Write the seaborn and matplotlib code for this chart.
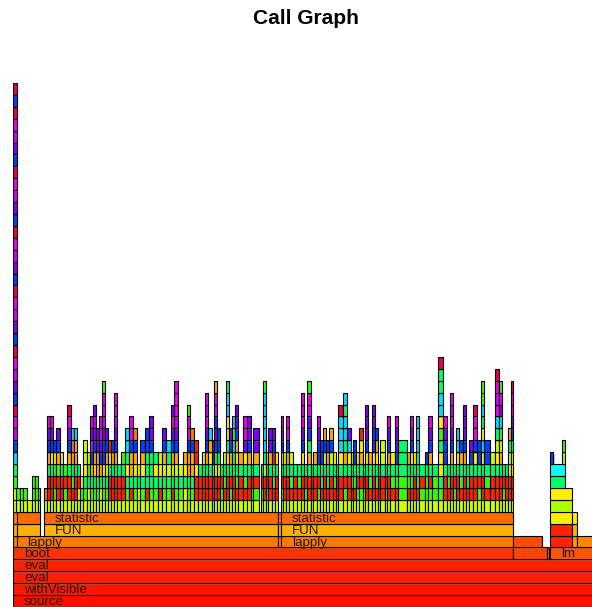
import matplotlib
matplotlib.use("Agg")
import matplotlib.pyplot as plt
import matplotlib.patheffects as pe
import seaborn as sns
import pandas as pd

# ---------------- data (x in profiler samples, levels = stack depth) ----------------
palette = {
    'l': '#CCFF00', 'r': '#FF2200', 'g': '#33FF00', 's': '#00FF66',
    'y': '#FFEE00', 'a': '#FFAA00', 'o': '#FF7A00', 'c': '#00DDFF',
    'b': '#0040FF', 'p': '#8000FF', 'm': '#EE00EE', 'n': '#CC00FF',
    'k': '#EE0044',
}

# named base frames: level, start, end, colour, label
base_levels = [0, 1, 2, 3, 4, 4, 4, 4,
               5, 5, 5, 5, 5, 5, 5,
               6, 6, 6, 6, 6, 6,
               7, 7, 7, 7, 7, 7,
               8, 9, 10, 11, 12, 12, 13]
base_start = [0, 0, 0, 0, 0, 500, 534, 537,
              3, 264.7, 268, 500, 537, 558.7, 564,
              3, 31, 264.7, 268, 537, 558.7,
              3, 31, 264.7, 268, 537, 558.7,
              537, 537, 537, 537, 537, 548.7, 548.7]
base_end = [590, 590, 590, 590, 500, 534, 536, 590,
            264.7, 268, 500, 528.7, 558.7, 564, 590,
            27, 264.7, 268, 500, 558.7, 564,
            27, 264.7, 268, 500, 558.7, 564,
            558.7, 558.7, 552, 552, 540.3, 552, 552]
base_color = ['#FF0E00', '#FF1600', '#FF1E00', '#FF2200', '#FF3300', '#FF4400', '#FF5000', '#FF5500',
              '#FF7A00', '#FF7A00', '#FF7A00', '#FF4A00', '#FF2200', '#FF9900', '#FF8800',
              '#FFB000', '#FFB000', '#FFB000', '#FFB000', '#FF2200', '#FFB000',
              '#FF6A00', '#FF6A00', '#FF6A00', '#FF6A00', '#FFEE00', '#FFEE00',
              '#AAFF00', '#FFEE00', '#00FF66', '#00FFFF', '#0044FF', '#AAFF00', '#33FF00']
base_label = ['source', 'withVisible', 'eval', 'eval', 'boot', '', '', 'lm',
              'lapply', '', 'lapply', '', '', '', '',
              '', 'FUN', '', 'FUN', '', '',
              '', 'statistic', '', 'statistic', '', '',
              '', '', '', '', '', '', '']

# deep recursive call chain at the far left (levels 5 .. 43)
tall_start, tall_end = 0, 3.5
tall_stack = "oaollgscbnmkbpnmkbpnmkbpnmkbpnmkbpnmkbk"

# small stack under the first FUN (levels 8+)
left_edges = [3, 7, 10, 14, 19, 22, 25, 27]
left_stacks = ["lg", "lg", "lg", "l", "lgg", "lgg", "lg"]

# first statistic() block (levels 8+)
a_edges = [31, 34, 37, 40, 43, 47, 50, 54, 58, 61, 64, 67, 70, 74, 77, 80, 83, 86, 89, 92,
           95, 98, 101, 104, 108, 112, 116, 120, 124, 127, 132, 136, 140, 145, 149, 153, 158,
           161, 165, 170, 174, 177, 181, 185, 189, 192, 195, 199, 201, 204, 207, 210, 213, 216,
           219, 222, 225, 230, 234, 238, 240, 246, 248, 250, 253, 255, 259, 262, 265]
a_stacks = ["lo", "lrrsabpm", "lrrgybpm", "lgrsyb", "lrrgabp", "lrrsy", "lgrg", "lrrsabpmk",
            "lrgsaoc", "lrrsaac", "lyrs", "lgy", "lgsyll", "lysgl", "lgsabmpm", "lgsyabpnp",
            "lgsaapp", "lysabpmm", "lgsybbpnmmg", "lgslabp", "lrrsyr", "lrrsab", "lrrsabpnmm",
            "lrrs", "lrrsg", "lgsyscc", "lrsaabmm", "lgslabo", "lysy", "lgsyab", "lrsssbb",
            "lgsssbpp", "lgsys", "lrsyl", "lgslabp", "lgslsc", "lrslabpmp", "lgslabpnmmm",
            "lgsl", "lysya", "lgsaabmmg", "lgsaabo", "lrryrr", "lrrs", "lrrsy", "lrrsabpmnm",
            "lrrsyac", "lrrlbp", "lrrlsbpbmma", "lrrlsbb", "lgrs", "lrgsl", "lrrsyslyccs",
            "lgrsabp", "lrrsscsc", "lrgsyabpp", "lrrsa", "lrgsypmm", "lrrsabpp", "lgrs",
            "lgrsapp", "", "lgrs", "lrrlscccccg", "lgrsy", "lrrsapp", "lrgsrbp", "lrrsy"]

# second statistic() block (levels 8+)
b_edges = [268, 270, 273, 276, 280, 284, 288, 291, 294, 298, 300, 304, 307, 310, 313, 316, 320,
           323, 325, 330, 334, 338, 340, 343, 346, 350, 352, 355, 359, 362, 365, 367, 372, 374,
           377, 382, 385, 394, 397, 400, 403, 406, 412, 415, 419, 425, 430, 434, 437, 440, 443,
           446, 450, 453, 456, 460, 464, 468, 471, 477, 482, 486, 489, 492, 495, 498, 500]
b_stacks = ["lgrsybpm", "lrrsl", "lrrsabmm", "lrgsl", "lrrs", "lrgs", "lrrsybpmmm", "lgrs",
            "lrrsasbpmmg", "lrrs", "lrrsa", "lgrsbbpm", "lrgsbb", "lrrslba", "lrgsab", "lrrslba",
            "lrgsy", "lrrs", "lrrsyccck", "lgrsasccsc", "lrrsycp", "lrgsl", "lrgsbb", "lgrsy",
            "lgrsayr", "lgrs", "lrrsybppp", "lrgsa", "lrrsybbpp", "lrgsyab", "lrrs", "lrrsll",
            "lgrs", "lrrsabpm", "lrgsy", "lrgsbppm", "lggsss", "lrgsa", "lrgsybpm", "lrrsy",
            "lrgssccc", "lgrs", "lggsb", "lgrsabpm", "lggs", "lgsyysgyccssk", "lrrsbbpm", "lrgs",
            "lrrsabpmnm", "lgrs", "lrrsycc", "lrgsab", "lrrsabppp", "lrgs", "lrrsbp", "lrrsybmmk",
            "lgrsbb", "lrrsycyscgg", "lrgsbb", "lrrsl", "lrrsylscmnmk", "lrrsalgcpmg", "lgrs",
            "lrrs", "lrrylsa", "lrrylsbpmmk"]

# ---------------- build frame table ----------------
rows = []
for lv, x0, x1, col, lab in zip(base_levels, base_start, base_end, base_color, base_label):
    rows.append(dict(level=lv, start=x0, width=x1 - x0, color=col, label=lab))
for i, ch in enumerate(tall_stack):
    rows.append(dict(level=5 + i, start=tall_start, width=tall_end - tall_start,
                     color=palette[ch], label=''))
for edges, stacks in ((left_edges, left_stacks), (a_edges, a_stacks), (b_edges, b_stacks)):
    for j, st in enumerate(stacks):
        for i, ch in enumerate(st):
            rows.append(dict(level=8 + i, start=edges[j], width=edges[j + 1] - edges[j],
                             color=palette[ch], label=''))
df = pd.DataFrame(rows)

# ---------------- draw ----------------
sns.set_theme(style="white")
plt.rcParams['font.family'] = ['Liberation Sans', 'DejaVu Sans']

fig = plt.figure(figsize=(5.92, 6.07), dpi=100)
ax = fig.add_axes([13 / 592, 0.0, 586 / 592, 524 / 607])
bars = ax.bar(df['start'], 1.0, width=df['width'], bottom=df['level'], align='edge',
              color=df['color'], edgecolor='black', linewidth=0.8)
shadow = [pe.SimplePatchShadow(offset=(1.0, -1.0), shadow_rgbFace='#808080', alpha=0.45),
          pe.Normal()]
for b in bars:
    b.set_path_effects(shadow)

for _, r in df[df['label'] != ''].iterrows():
    ax.text(r['start'] + 11, r['level'] + 0.16, r['label'], ha='left', va='baseline',
            fontsize=9.6, color='#1a1a1a')

ax.set_xlim(0, 586)
ax.set_ylim(0, 44)
ax.axis('off')
sns.despine(ax=ax, left=True, bottom=True)

fig.text(306 / 592, 1 - 18 / 607, "Call Graph", ha='center', va='center',
         fontsize=15, fontweight='bold', color='black')

fig.savefig('out.png', dpi=100)
